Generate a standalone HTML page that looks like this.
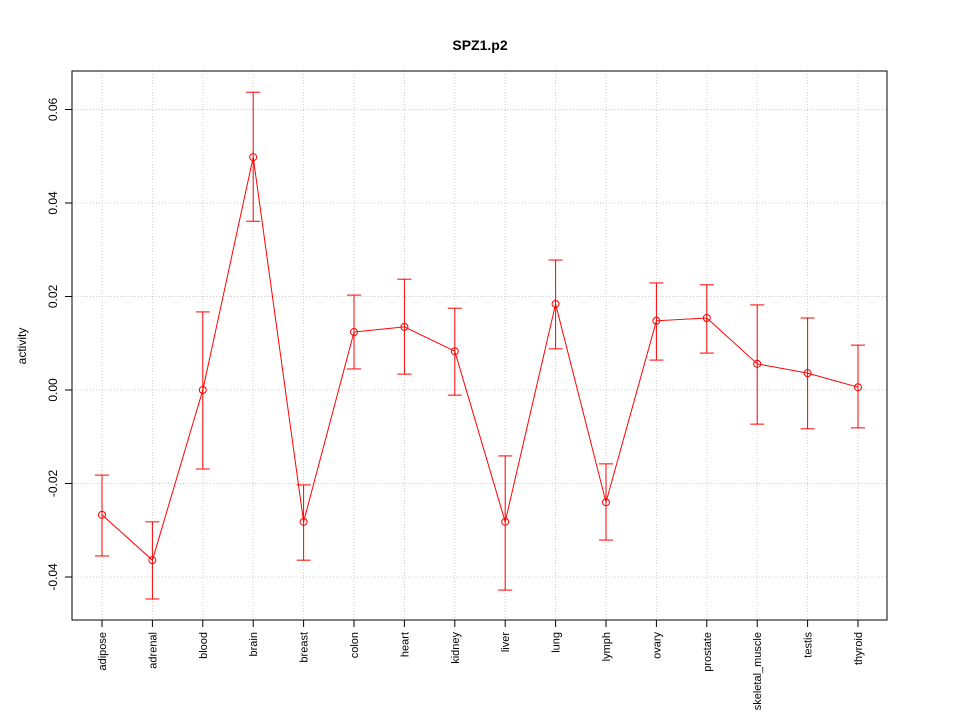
<!DOCTYPE html>
<html><head><meta charset="utf-8"><style>
body{margin:0;background:#fff;}
svg text{font-family:"Liberation Sans",sans-serif;}
</style></head><body>
<svg id="chart" width="960" height="720" xmlns="http://www.w3.org/2000/svg">
<rect width="960" height="720" fill="#fff"/>
<text x="480" y="50" text-anchor="middle" font-size="14" font-weight="bold">SPZ1.p2</text>
<text transform="translate(26,346) rotate(-90)" text-anchor="middle" font-size="12">activity</text>
<g id="grid"></g><g id="axes"></g><g id="marks"></g>
<rect x="72" y="71" width="815" height="549" fill="none" stroke="#000"/>
</svg>
<script>
const categories=["adipose","adrenal","blood","brain","breast","colon","heart","kidney","liver","lung","lymph","ovary","prostate","skeletal_muscle","testis","thyroid"];
const values=[-0.0267,-0.0364,0.0,0.0498,-0.0282,0.0124,0.0135,0.0083,-0.0282,0.0184,-0.024,0.0148,0.0154,0.0056,0.0036,0.0006];
const upper=[-0.0182,-0.0282,0.0167,0.0637,-0.0203,0.0203,0.0237,0.0175,-0.0141,0.0278,-0.0158,0.0229,0.0225,0.0182,0.0154,0.0096];
const lower=[-0.0355,-0.0447,-0.0169,0.0361,-0.0364,0.0045,0.0034,-0.0011,-0.0428,0.0088,-0.0321,0.0064,0.0079,-0.0073,-0.0083,-0.0081];
const yTicks=[-0.04,-0.02,0.00,0.02,0.04,0.06];
const yTickLabels=["-0.04","-0.02","0.00","0.02","0.04","0.06"];
const NS="http://www.w3.org/2000/svg";
function x(i){return 102+i*(858-102)/(categories.length-1);}
function y(v){return 390-v*4675;}
function mk(tag,attrs,parent){const e=document.createElementNS(NS,tag);for(const k in attrs)e.setAttribute(k,attrs[k]);document.getElementById(parent).appendChild(e);return e;}
yTicks.forEach((t,i)=>{
 const g=mk('line',{x1:72,x2:887,y1:y(t),y2:y(t),stroke:'#ccc','stroke-dasharray':'1,2'},'grid');
 
 
 const tk=mk('line',{x1:65,x2:72,y1:y(t),y2:y(t),stroke:'#000'},'axes');
 
 
 const lb=mk('text',{transform:`translate(57,${y(t)}) rotate(-90)`,'text-anchor':'middle','font-size':'12'},'axes');
 lb.textContent=yTickLabels[i];
 
 
});
categories.forEach((c,i)=>{
 const g=mk('line',{x1:x(i),x2:x(i),y1:71,y2:620,stroke:'#ccc','stroke-dasharray':'1,2'},'grid');
 
 
 const tk=mk('line',{x1:x(i),x2:x(i),y1:620,y2:627,stroke:'#000'},'axes');
 
 
 const lb=mk('text',{transform:`translate(${x(i)+4},632) rotate(-90)`,'text-anchor':'end','font-size':'11'},'axes');
 lb.textContent=c;
 
 
});
let pts=values.map((v,i)=>x(i)+','+y(v)).join(' ');
const pl=mk('polyline',{points:pts,fill:'none',stroke:'#f00'},'marks');


values.forEach((v,i)=>{
 const b=mk('line',{x1:x(i),x2:x(i),y1:y(upper[i]),y2:y(lower[i]),stroke:'#f00'},'marks');
 
 
 [upper[i],lower[i]].forEach(e=>{
  const c=mk('line',{x1:x(i)-7,x2:x(i)+7,y1:y(e),y2:y(e),stroke:'#f00'},'marks');
  
  
 });
 const p=mk('circle',{cx:x(i),cy:y(v),r:3.5,fill:'none',stroke:'#f00'},'marks');
 
 
});
</script>
</body></html>
